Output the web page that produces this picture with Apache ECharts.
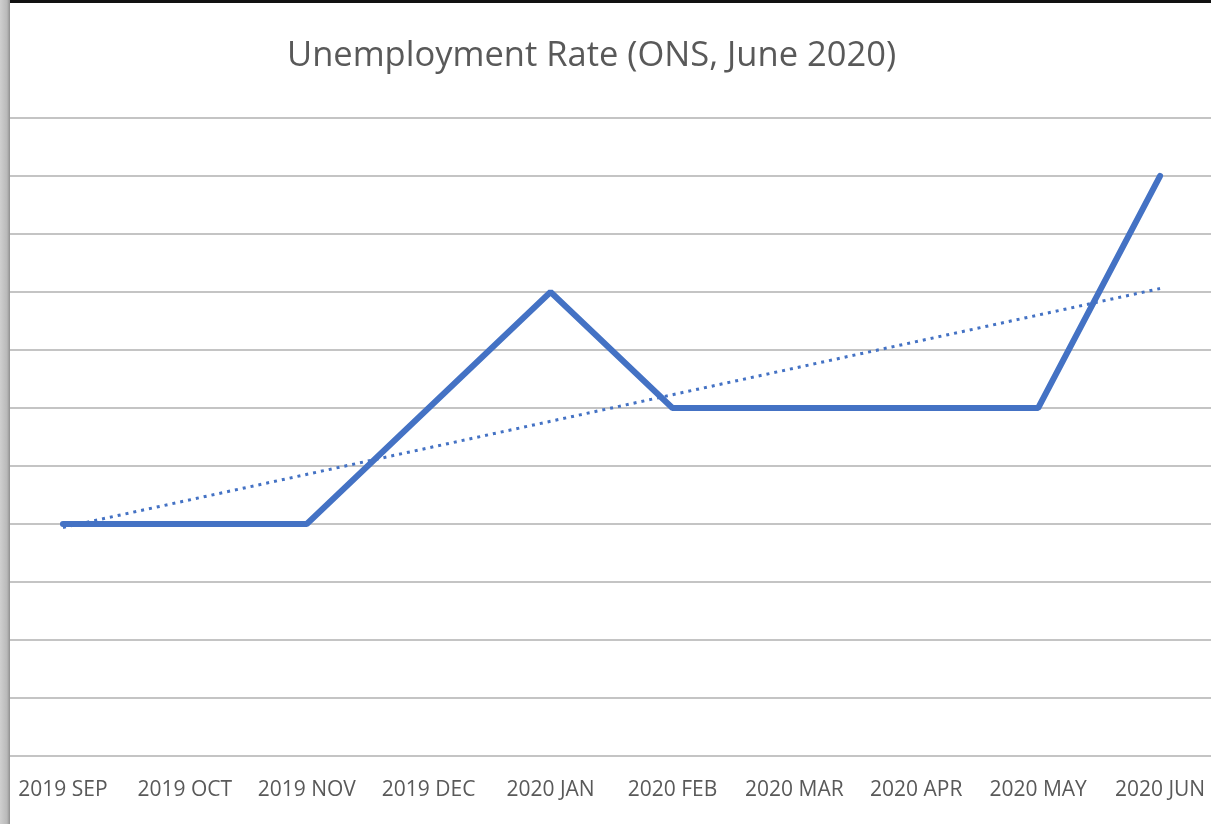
<!DOCTYPE html>
<html>
<head>
<meta charset="utf-8">
<title>Unemployment Rate (ONS, June 2020)</title>
<script src="https://cdn.jsdelivr.net/npm/echarts@6/dist/echarts.min.js"></script>
<style>
  html, body { margin: 0; padding: 0; width: 1211px; height: 824px; overflow: hidden; background: #ffffff; }
  .edge-left { position: absolute; left: 0; top: 0; width: 10px; height: 824px; z-index: 2;
    background: linear-gradient(to right, #cfcfcf, #b9b9b9 70%, #8f8f8f); }
  .edge-top { position: absolute; left: 10px; top: 0; width: 1201px; height: 3px; background: #111; z-index: 2; }
  /* the plot is a little wider than the window, as in the cropped screenshot */
  #chart { position: absolute; left: 2px; top: 3px; width: 1219px; height: 821px; }
</style>
</head>
<body>
<div class="edge-left"></div>
<div class="edge-top"></div>
<div id="chart"></div>
<script>
const months = ['2019 SEP', '2019 OCT', '2019 NOV', '2019 DEC', '2020 JAN',
  '2020 FEB', '2020 MAR', '2020 APR', '2020 MAY', '2020 JUN']
const rates = [3.8, 3.8, 3.8, 3.9, 4.0, 3.9, 3.9, 3.9, 3.9, 4.1]
const trendValues = [3.797, null, null, null, null, null, null, null, null, 4.003]

const blue = '#4472C4'
const grey = '#595959'

const chart = echarts.init(document.getElementById('chart'))

chart.setOption({
  animation: false,
  title: {
    text: 'Unemployment Rate (ONS, June 2020)',
    left: 280,
    top: 31,
    textStyle: { color: grey, fontFamily: 'Open Sans', fontWeight: 'normal', fontSize: 34.5 },
  },
  grid: { left: 0, right: 0, top: 115, bottom: 68 },
  xAxis: {
    type: 'category',
    data: months,
    boundaryGap: true,
    axisTick: { show: false },
    axisLine: { lineStyle: { color: '#c4c4c4', width: 2 } },
    axisLabel: { interval: 0, color: grey, fontFamily: 'Open Sans', fontSize: 21, margin: 24 },
  },
  yAxis: {
    type: 'value',
    min: 3.6,
    max: 4.15,
    interval: 0.05,
    axisLabel: { show: false },
    axisLine: { show: false },
    axisTick: { show: false },
    splitLine: { lineStyle: { color: '#c4c4c4', width: 2 } },
  },
  series: [
    {
      name: 'Unemployment rate',
      type: 'line',
      data: rates,
      symbol: 'none',
      lineStyle: { color: blue, width: 6, cap: 'round' },
      z: 3,
    },
    {
      name: 'Linear trend',
      type: 'line',
      data: trendValues,
      connectNulls: true,
      symbol: 'none',
      lineStyle: { color: blue, width: 3, type: [3, 5] },
      z: 4,
    },
  ],
})
</script>
</body>
</html>
